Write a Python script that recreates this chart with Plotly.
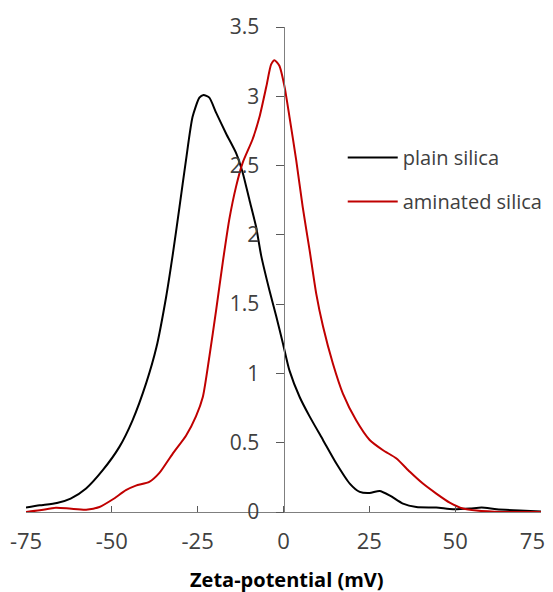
import plotly.graph_objects as go

# Zeta-potential (mV)
plain_x = [-75, -71, -66, -62, -57.5, -52.7, -47.8, -44, -40, -37, -34.2, -32.3, -30.3, -28.4,
           -26.5, -24.5, -23.3, -21.6, -19.6, -16.7, -13.8, -11.9, -9.9, -8, -6.5, -4.1, -2.1,
           -0.2, 1.75, 4.7, 7.6, 11.5, 15.4, 19.3, 22.2, 25.1, 28, 30.9, 34.8, 38.7, 44.5, 49.4,
           54.3, 57.7, 62.1, 68.8, 75]
plain_y = [0.032, 0.048, 0.065, 0.097, 0.17, 0.30, 0.47, 0.66, 0.93, 1.19, 1.55, 1.85, 2.20, 2.54,
           2.85, 2.99, 3.01, 2.99, 2.88, 2.73, 2.59, 2.45, 2.25, 2.06, 1.85, 1.60, 1.41,
           1.22, 1.02, 0.83, 0.69, 0.52, 0.35, 0.205, 0.145, 0.137, 0.152, 0.12, 0.06, 0.036, 0.032, 0.02,
           0.025, 0.032, 0.02, 0.01, 0.003]

amin_x = [-75, -71, -66.3, -62.4, -57.5, -53.6, -49.8, -45.9, -43, -39.1, -36.2, -32.3, -28.4, -25.5,
          -23.5, -21.6, -19.6, -17.7, -15.8, -13.8, -11.9, -9, -7, -5, -3.6, -2.6, -1.2, 0.3, 1.75,
          3.7, 5.6, 7.6, 9.5, 11.5, 14.4, 17.3, 21.2, 25.1, 29, 32.9, 36.8, 40.6, 44.5, 48.4, 52.3,
          56.2, 64, 75]
amin_y = [0.0, 0.012, 0.03, 0.025, 0.017, 0.036, 0.09, 0.157, 0.19, 0.217, 0.28, 0.42, 0.55, 0.69,
          0.83, 1.12, 1.46, 1.80, 2.11, 2.35, 2.52, 2.69, 2.85, 3.07, 3.23, 3.26, 3.22, 3.07, 2.85,
          2.54, 2.20, 1.89, 1.58, 1.34, 1.07, 0.855, 0.66, 0.52, 0.446, 0.386, 0.29, 0.205, 0.133, 0.068, 0.025,
          0.01, 0.0, 0.0]

x_ticks = [-75, -50, -25, 0, 25, 50, 75]
# last label padded with no-break spaces so it stays inside the visible page edge
x_ticklabels = ["-75", "-50", "-25", "0", "25", "50", "75\u00a0\u00a0\u00a0"]
y_ticks = [0, 0.5, 1, 1.5, 2, 2.5, 3, 3.5]
y_ticklabels = ["0", "0.5", "1", "1.5", "2", "2.5", "3", "3.5"]
x_title = "Zeta-potential (mV)"

FONT = "Open Sans"
AXIS_COLOR = "#7f7f7f"
TICK_COLOR = "#595959"
TEXT_COLOR = "#404040"

X_DOMAIN_END = 515 / 527
Y_AXIS_POS = 0.5 * X_DOMAIN_END  # where x = 0 sits

fig = go.Figure()
fig.add_trace(go.Scatter(x=plain_x, y=plain_y, mode="lines", name="plain silica",
                         legendgroup="a",
                         line=dict(color="#000000", width=2, shape="spline", smoothing=0.6)))
fig.add_trace(go.Scatter(x=amin_x, y=amin_y, mode="lines", name="aminated silica",
                         legendgroup="b",
                         line=dict(color="#c00000", width=2, shape="spline", smoothing=0.6)))

# the page body has an 8px default margin, so the figure is sized to fit the window
fig.update_layout(
    width=545, height=584,
    margin=dict(l=18, r=0, t=19, b=80, autoexpand=False),
    paper_bgcolor="white", plot_bgcolor="white",
    font=dict(family=FONT, size=21, color=TEXT_COLOR),
    showlegend=True,
    legend=dict(x=0.601, y=0.771, xanchor="left", yanchor="top",
                bgcolor="rgba(0,0,0,0)", font=dict(size=20, color=TEXT_COLOR),
                tracegroupgap=15, itemwidth=50),
    xaxis=dict(range=[-75, 75], domain=[0, X_DOMAIN_END],
               tickvals=x_ticks, ticktext=x_ticklabels,
               automargin=False, ticklabeloverflow="allow",
               showgrid=False, zeroline=False, showline=True, linecolor=AXIS_COLOR, linewidth=1,
               ticks="inside", ticklen=6, tickcolor=TICK_COLOR, tickwidth=1,
               ticklabelstandoff=10,
               tickfont=dict(size=22, color=TEXT_COLOR)),
    yaxis=dict(range=[0, 3.5], tickvals=y_ticks, ticktext=y_ticklabels,
               anchor="free", position=Y_AXIS_POS, automargin=False,
               showgrid=False, zeroline=False, showline=True, linecolor=AXIS_COLOR, linewidth=1,
               ticks="outside", ticklen=8, tickcolor=TICK_COLOR, tickwidth=1,
               ticklabelstandoff=12,
               tickfont=dict(size=21, color=TEXT_COLOR)),
    yaxis2=dict(range=[0, 3.5], tickvals=y_ticks, showticklabels=False,
                overlaying="y", anchor="free", position=Y_AXIS_POS, side="left", automargin=False,
                showgrid=False, zeroline=False, showline=False,
                ticks="inside", ticklen=8, tickcolor=TICK_COLOR, tickwidth=1),
    annotations=[dict(text="<b>" + x_title + "</b>", xref="paper", yref="paper",
                      x=0.495, y=-0.14, xanchor="center", yanchor="middle", showarrow=False,
                      font=dict(size=20, color="#000000", family=FONT))],
)

fig.write_html("out.html")
